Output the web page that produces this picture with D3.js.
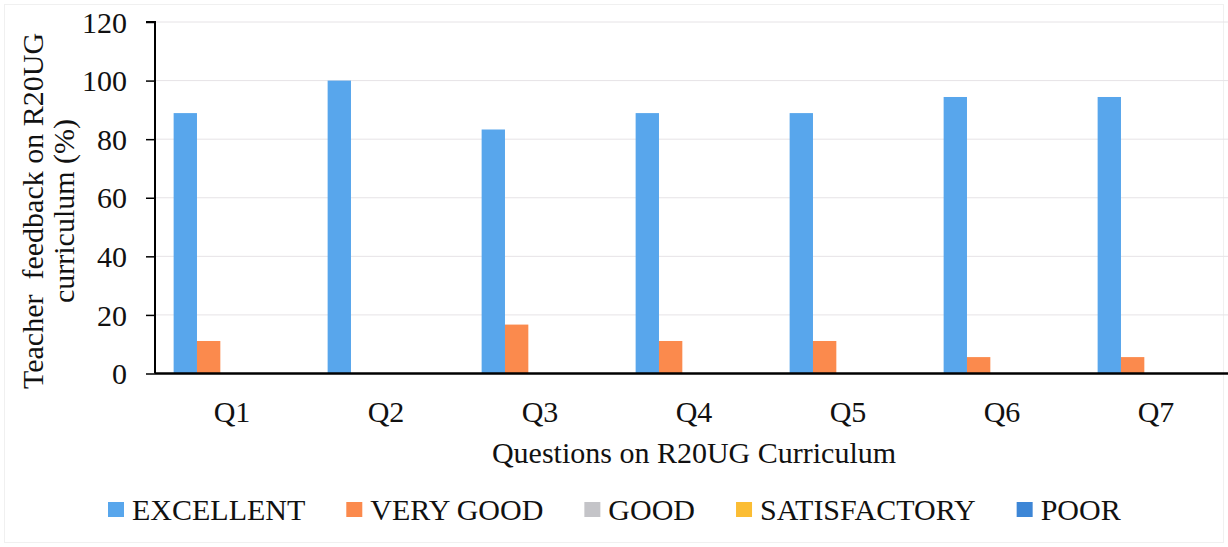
<!DOCTYPE html>
<html>
<head>
<meta charset="utf-8">
<script src="https://cdn.jsdelivr.net/npm/d3@7"></script>
<style>
  html, body { margin: 0; padding: 0; background: #fff; }
  svg { display: block; font-family: "Liberation Serif", "Times New Roman", serif; }
</style>
</head>
<body>
<svg id="chart" width="1228" height="547"></svg>
<script>
// ---- data ----
const categories = ["Q1", "Q2", "Q3", "Q4", "Q5", "Q6", "Q7"];
const seriesNames = ["EXCELLENT", "VERY GOOD", "GOOD", "SATISFACTORY", "POOR"];
const excellent   = [88.9, 100, 83.3, 88.9, 88.9, 94.4, 94.4];
const veryGood    = [11.1, 0, 16.7, 11.1, 11.1, 5.6, 5.6];
const good        = [0, 0, 0, 0, 0, 0, 0];
const satisfactory= [0, 0, 0, 0, 0, 0, 0];
const poor        = [0, 0, 0, 0, 0, 0, 0];
const yTicks = [0, 20, 40, 60, 80, 100, 120];
const xTitle = "Questions on R20UG Curriculum";
const yTitleLines = ["Teacher  feedback on R20UG", "curriculum (%)"];

const seriesValues = [excellent, veryGood, good, satisfactory, poor];
const colors = ["#58a6ec", "#fb8a4d", "#c4c4c8", "#fbbd34", "#3d86d6"];

// ---- layout ----
const svg = d3.select("#chart");
const W = 1228, H = 547;
const plot = { left: 155, right: 1233, top: 22, bottom: 373.5 };
const FONT = 30;

svg.append("rect").attr("x", 4.5).attr("y", 4.5).attr("width", W - 9).attr("height", H - 9)
  .attr("fill", "#fff").attr("stroke", "#f0f0f0").attr("stroke-width", 1);

const x = d3.scaleBand().domain(categories).range([plot.left, plot.right])
  .paddingInner(0.242).paddingOuter(0.121);
const xs = d3.scaleBand().domain(seriesNames).range([0, x.bandwidth()]).padding(0);
const y = d3.scaleLinear().domain([0, 120]).range([plot.bottom, plot.top]);

// gridlines
svg.append("g").selectAll("line").data(yTicks.filter(d => d > 0)).join("line")
  .attr("x1", plot.left).attr("x2", W)
  .attr("y1", d => y(d)).attr("y2", d => y(d))
  .attr("stroke", "#e6e3e6").attr("stroke-width", 1);

// bars
const groups = svg.append("g").selectAll("g").data(categories).join("g")
  .attr("transform", d => `translate(${x(d)},0)`);
groups.selectAll("rect").data((c, i) => seriesNames.map((s, k) => ({ s, k, v: seriesValues[k][i] })))
  .join("rect")
  .attr("x", d => xs(d.s))
  .attr("width", xs.bandwidth())
  .attr("y", d => y(d.v))
  .attr("height", d => y(0) - y(d.v))
  .attr("fill", d => colors[d.k]);

// y axis
const yAxis = svg.append("g").attr("transform", `translate(${plot.left},0)`)
  .call(d3.axisLeft(y).tickValues(yTicks).tickSize(9).tickPadding(19));
yAxis.select(".domain").attr("stroke", "#000").attr("stroke-width", 2)
  .attr("d", `M-9,${y(120)}H0V${y(0)}`);
yAxis.selectAll(".tick line").attr("stroke", "#000").attr("stroke-width", 1.5);
yAxis.selectAll(".tick text").attr("font-size", FONT).attr("fill", "#111")
  .attr("font-family", "Liberation Serif, serif").attr("dy", "0.34em");

// x axis
const xAxis = svg.append("g").attr("transform", `translate(0,${plot.bottom})`)
  .call(d3.axisBottom(x).tickSize(0).tickPadding(0));
xAxis.select(".domain").attr("stroke", "#000").attr("stroke-width", 2.5)
  .attr("d", `M${plot.left},0H${W}`);
xAxis.selectAll(".tick text").attr("font-size", FONT).attr("fill", "#111")
  .attr("font-family", "Liberation Serif, serif").attr("y", 48).attr("dy", 0);

// axis titles
svg.append("text").attr("x", (plot.left + plot.right) / 2).attr("y", 463)
  .attr("text-anchor", "middle").attr("font-size", FONT).attr("fill", "#111")
  .text(xTitle);

const yt = svg.append("text").attr("transform", "translate(43,211) rotate(-90)")
  .attr("text-anchor", "middle").attr("font-size", FONT).attr("fill", "#111")
  .style("white-space", "pre");
yTitleLines.forEach((t, i) => {
  yt.append("tspan").attr("x", 0).attr("y", i * 31).text(t);
});

// legend
const legend = svg.append("g");
let lx = 108;
seriesNames.forEach((name, k) => {
  legend.append("rect").attr("x", lx).attr("y", 502).attr("width", 16).attr("height", 15)
    .attr("fill", colors[k]);
  const t = legend.append("text").attr("x", lx + 24).attr("y", 520)
    .attr("font-size", FONT).attr("fill", "#111").text(name);
  lx += 24 + t.node().getComputedTextLength() + 41;
});
</script>
</body>
</html>
